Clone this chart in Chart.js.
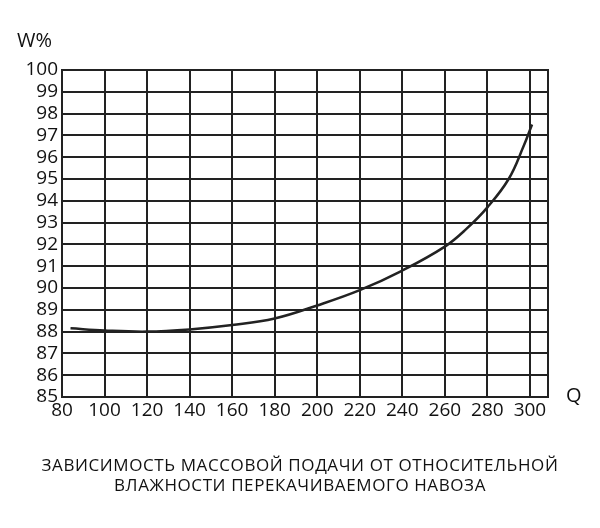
<!DOCTYPE html>
<html>
<head>
<meta charset="utf-8">
<script src="https://cdn.jsdelivr.net/npm/chart.js@4"></script>
<style>
  body { margin: 0; background: #fff; }
  #wrap { position: relative; width: 600px; height: 528px; }
  .lbl { position: absolute; font-family: "Open Sans", sans-serif; color: #111; }
</style>
</head>
<body>
<div id="wrap">
  <canvas id="chart" width="600" height="528"></canvas>
  <div class="lbl" style="left:17px;top:26px;font-size:20px;">W%</div>
  <div class="lbl" style="left:566px;top:381px;font-size:20px;">Q</div>
  <div class="lbl" style="left:0;top:455px;width:600px;text-align:center;font-size:17px;line-height:20px;letter-spacing:0.6px;">ЗАВИСИМОСТЬ МАССОВОЙ ПОДАЧИ ОТ ОТНОСИТЕЛЬНОЙ<br>ВЛАЖНОСТИ ПЕРЕКАЧИВАЕМОГО НАВОЗА</div>
</div>
<script>
'use strict';
var qValues = [84, 100, 120, 140, 160, 180, 200, 220, 240, 260, 270, 280, 290, 297, 301];
var wValues = [88.15, 88.05, 88.0, 88.1, 88.3, 88.6, 89.2, 89.9, 90.8, 91.9, 92.7, 93.7, 95.0, 96.5, 97.5];
var xTicks = [80, 100, 120, 140, 160, 180, 200, 220, 240, 260, 280, 300];
var yTicks = [85, 86, 87, 88, 89, 90, 91, 92, 93, 94, 95, 96, 97, 98, 99, 100];

var points = [];
for (var i = 0; i < qValues.length; i++) {
  points.push({ x: qValues[i], y: wValues[i] });
}

var ctx = document.getElementById('chart').getContext('2d');
new Chart(ctx, {
  type: 'scatter',
  data: {
    datasets: [{
      data: points,
      showLine: true,
      borderColor: '#222',
      borderWidth: 2.5,
      pointRadius: 0,
      tension: 0.4
    }]
  },
  options: {
    responsive: false,
    animation: false,
    layout: { padding: { top: 70, right: 52, left: 0, bottom: 0 } },
    plugins: { legend: { display: false }, tooltip: { enabled: false } },
    scales: {
      x: {
        type: 'linear',
        min: 80,
        max: 308.5,
        afterBuildTicks: function (axis) {
          axis.ticks = xTicks.concat([308.5]).map(function (v) { return { value: v }; });
        },
        afterFit: function (axis) { axis.height = 131; },
        grid: { color: '#222', lineWidth: 2, drawTicks: false },
        border: { color: '#222', width: 2 },
        ticks: {
          color: '#111',
          font: { family: 'Open Sans', size: 19 },
          padding: 2,
          maxRotation: 0,
          autoSkip: false,
          callback: function (v) { return v > 300 ? '' : v; }
        }
      },
      y: {
        min: 85,
        max: 100,
        afterBuildTicks: function (axis) {
          axis.ticks = yTicks.map(function (v) { return { value: v }; });
        },
        afterFit: function (axis) { axis.width = 62; },
        grid: { color: '#222', lineWidth: 2, drawTicks: false },
        border: { color: '#222', width: 2 },
        ticks: {
          autoSkip: false,
          color: '#111',
          font: { family: 'Open Sans', size: 19 },
          padding: 4
        }
      }
    }
  },
  plugins: [{
    id: 'frame',
    afterDraw: function (chart) {
      var a = chart.chartArea, c = chart.ctx;
      c.save();
      c.strokeStyle = '#222';
      c.lineWidth = 2;
      c.strokeRect(a.left, a.top, a.right - a.left, a.bottom - a.top);
      c.restore();
    }
  }]
});
</script>
</body>
</html>
